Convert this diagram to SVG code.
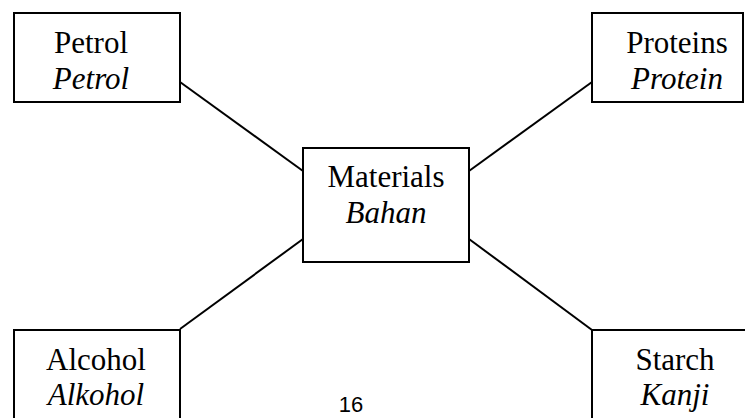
<svg xmlns="http://www.w3.org/2000/svg" width="745" height="418" viewBox="0 0 745 418">
<style>
.box{fill:#fff;stroke:#000;stroke-width:2}
.ln{stroke:#000;stroke-width:2;fill:none}
.t{font-family:"Liberation Serif","Times New Roman",serif;font-size:31px;fill:#000;text-anchor:middle}
.i{font-style:italic}
.pg{font-family:"Liberation Sans",Arial,sans-serif;font-size:22px;fill:#000;text-anchor:middle}
</style>
<rect width="745" height="418" fill="#fff"/>
<g id="connectors">
<line class="ln" x1="180" y1="82" x2="303" y2="171"/>
<line class="ln" x1="592" y1="82" x2="469" y2="171"/>
<line class="ln" x1="180" y1="329" x2="303" y2="239"/>
<line class="ln" x1="592" y1="330" x2="469" y2="239"/>
</g>
<g id="petrol">
<rect class="box" x="14" y="13" width="166" height="89"/>
<text class="t" x="91" y="53">Petrol</text>
<text class="t i" x="91" y="89">Petrol</text>
</g>
<g id="proteins">
<rect class="box" x="592" y="13" width="151" height="89"/>
<text class="t" x="677" y="53">Proteins</text>
<text class="t i" x="677" y="89">Protein</text>
</g>
<g id="materials">
<rect class="box" x="303" y="148" width="166" height="114"/>
<text class="t" x="386" y="187">Materials</text>
<text class="t i" x="386" y="223">Bahan</text>
</g>
<g id="alcohol">
<rect class="box" x="14" y="330" width="166" height="100"/>
<text class="t" x="96" y="370">Alcohol</text>
<text class="t i" x="96" y="405">Alkohol</text>
</g>
<g id="starch">
<rect class="box" x="592" y="330" width="170" height="100"/>
<text class="t" x="675" y="370">Starch</text>
<text class="t i" x="675" y="405">Kanji</text>
</g>
<text class="pg" x="351" y="412">16</text>
</svg>
